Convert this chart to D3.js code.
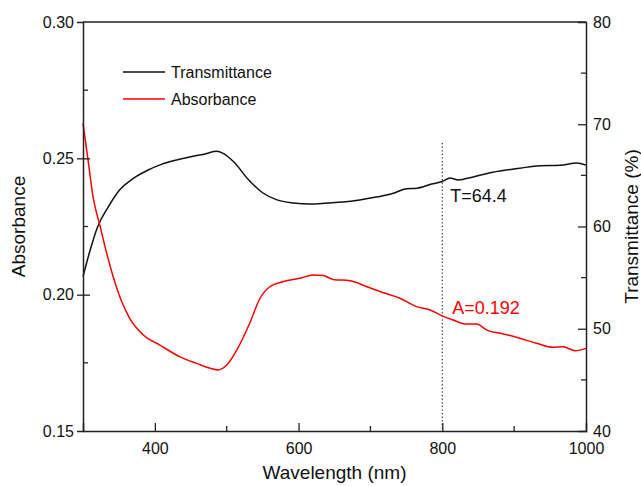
<!DOCTYPE html>
<html>
<head>
<meta charset="utf-8">
<script src="https://d3js.org/d3.v7.min.js"></script>
<style>
    body{margin:0;background:#fff;}
    text{font-family:"Liberation Sans",Arial,sans-serif;}
</style>
</head>
<body>
<svg id="drawing_region"></svg>
<script>
// wavelength (nm) / transmittance (%)
const trans_wl = [300,310,320,335,350,370,390,410,430,455,470,486,495,510,530,550,570,593,616,640,662,685,710,732,750,765,785,800,811,822,843,870,908,936,964,987,1000];
const trans_val = [55.1,57.7,59.9,61.9,63.5,64.7,65.5,66.1,66.5,66.9,67.1,67.35,67.15,66.3,64.6,63.3,62.6,62.3,62.2,62.3,62.4,62.6,62.9,63.25,63.7,63.75,64.15,64.4,64.75,64.55,64.85,65.3,65.7,65.95,66.0,66.2,66.0];

// wavelength (nm) / absorbance
const abs_wl = [300,307,314,324,333,342,354,365,384,407,435,458,477,488,500,514,532,546,560,579,602,620,634,648,672,695,718,741,764,783,800,815,834,848,862,885,908,931,954,968,985,1000];
const abs_val = [0.2628,0.2494,0.2359,0.2249,0.2152,0.2066,0.1974,0.1913,0.1852,0.1815,0.1772,0.1748,0.1730,0.1724,0.1742,0.1797,0.1895,0.1985,0.2029,0.2048,0.2060,0.2072,0.2070,0.2056,0.2051,0.2029,0.2007,0.1987,0.1956,0.1944,0.1922,0.1907,0.1892,0.1892,0.1870,0.1856,0.1840,0.1822,0.1807,0.1809,0.1794,0.1803];

const x_ticks = [400,600,800,1000];
const y_left_ticks = [0.15,0.20,0.25,0.30];
const y_right_ticks = [40,50,60,70,80];

const marker_wl = 800;
const marker_T = "T=64.4";
const marker_A = "A=0.192";

var config = {
    parent:"#drawing_region",
    width:641,
    height:486,
    margin:{top:22,left:83,bottom:55,right:55}
};

class DualPlot{
    constructor(config){
        this.config = config;
        this.trans = trans_wl.map((w,i)=>({x:w,y:trans_val[i]}));
        this.abs = abs_wl.map((w,i)=>({x:w,y:abs_val[i]}));
        this.init();
    }

    init(){
        let self = this;
        const c = self.config;
        self.inner_width = c.width-c.margin.left-c.margin.right;
        self.inner_height = c.height-c.margin.top-c.margin.bottom;

        self.svg = d3.select(c.parent)
            .attr("width",c.width)
            .attr("height",c.height);

        self.chart = self.svg.append("g")
            .attr("transform",`translate(${c.margin.left},${c.margin.top})`);

        self.xscale = d3.scaleLinear().domain([300,1000]).range([0,self.inner_width]);
        self.yleft = d3.scaleLinear().domain([0.15,0.30]).range([self.inner_height,0]);
        self.yright = d3.scaleLinear().domain([40,80]).range([self.inner_height,0]);
    }

    render(){
        let self = this;
        const W = self.inner_width, H = self.inner_height;
        const axisColor = "#222";

        // data lines
        const lineT = d3.line().x(d=>self.xscale(d.x)).y(d=>self.yright(d.y)).curve(d3.curveMonotoneX);
        const lineA = d3.line().x(d=>self.xscale(d.x)).y(d=>self.yleft(d.y)).curve(d3.curveMonotoneX);

        // dotted marker line
        self.chart.append("line")
            .attr("x1",self.xscale(marker_wl)).attr("x2",self.xscale(marker_wl))
            .attr("y1",121).attr("y2",H)
            .attr("stroke","#222").attr("stroke-width",1.2)
            .attr("stroke-dasharray","1.2,2.4");

        self.chart.append("path").datum(self.trans)
            .attr("d",lineT).attr("fill","none")
            .attr("stroke","#111").attr("stroke-width",1.5);
        self.chart.append("path").datum(self.abs)
            .attr("d",lineA).attr("fill","none")
            .attr("stroke","#ff0000").attr("stroke-width",1.5);

        // bottom axis
        const xaxis = d3.axisBottom(self.xscale).tickValues(x_ticks).tickSize(-8).tickPadding(12).tickFormat(d3.format("d"));
        const xg = self.chart.append("g").attr("transform",`translate(0,${H})`).call(xaxis);
        xg.selectAll(".tick")
            .filter(d=>d===1000).select("line").remove();
        const xminor = d3.range(500,1000,200);
        xg.selectAll(".minor").data(xminor).enter().append("line")
            .attr("x1",d=>self.xscale(d)).attr("x2",d=>self.xscale(d))
            .attr("y1",0).attr("y2",-5);

        // top border
        self.chart.append("line")
            .attr("x1",0).attr("x2",W).attr("y1",0).attr("y2",0);

        // left axis
        const ylaxis = d3.axisLeft(self.yleft).tickValues(y_left_ticks).tickSize(6).tickPadding(3).tickFormat(d3.format(".2f"));
        const ylg = self.chart.append("g").call(ylaxis);
        ylg.selectAll(".tick line").attr("x2",-6).attr("x1",7);
        ylg.selectAll(".tick").filter(d=>d===0.15||d===0.30).select("line").remove();
        ylg.selectAll(".minor").data([0.175,0.225,0.275]).enter().append("line")
            .attr("x1",0).attr("x2",5)
            .attr("y1",d=>self.yleft(d)).attr("y2",d=>self.yleft(d));

        // right axis
        const yraxis = d3.axisRight(self.yright).tickValues(y_right_ticks).tickSize(-8).tickPadding(7);
        const yrg = self.chart.append("g").attr("transform",`translate(${W},0)`).call(yraxis);
        yrg.selectAll(".tick").filter(d=>d===40||d===80).select("line").remove();
        yrg.selectAll(".minor").data([45,55,65,75]).enter().append("line")
            .attr("x1",0).attr("x2",-5)
            .attr("y1",d=>self.yright(d)).attr("y2",d=>self.yright(d));

        [xg,ylg,yrg].forEach(g=>{
            g.select(".domain").attr("stroke",axisColor).attr("stroke-width",1.5);
            g.selectAll("line").attr("stroke",axisColor).attr("stroke-width",1.3);
            g.selectAll("text").attr("font-size","16px").attr("fill","#111")
                .attr("font-family","'Liberation Sans',Arial,sans-serif");
        });
        self.chart.selectAll("line").filter(function(){return !this.getAttribute("stroke");})
            .attr("stroke",axisColor).attr("stroke-width",1.5);

        // axis titles
        self.svg.append("text")
            .attr("x",self.config.margin.left+W/2).attr("y",479)
            .attr("text-anchor","middle").attr("font-size","19px").attr("fill","#111")
            .text("Wavelength (nm)");
        self.svg.append("text")
            .attr("transform",`translate(18,${self.config.margin.top+H/2}) rotate(-90)`)
            .attr("text-anchor","middle").attr("dominant-baseline","central")
            .attr("font-size","19px").attr("fill","#111")
            .text("Absorbance");
        self.svg.append("text")
            .attr("transform",`translate(631,${self.config.margin.top+H/2}) rotate(-90)`)
            .attr("text-anchor","middle").attr("dominant-baseline","central")
            .attr("font-size","19px").attr("fill","#111")
            .text("Transmittance (%)");

        // legend
        const legend = [
            {label:"Transmittance",color:"#111",y:50},
            {label:"Absorbance",color:"#ff0000",y:77}
        ];
        const lg = self.chart.selectAll(".legend").data(legend).enter().append("g");
        lg.append("line")
            .attr("x1",40).attr("x2",82)
            .attr("y1",d=>d.y).attr("y2",d=>d.y)
            .attr("stroke",d=>d.color).attr("stroke-width",1.5);
        lg.append("text")
            .attr("x",88).attr("y",d=>d.y)
            .attr("dominant-baseline","central")
            .attr("font-size","16px").attr("fill","#111")
            .text(d=>d.label);

        // annotations
        self.chart.append("text")
            .attr("x",self.xscale(marker_wl)+8).attr("y",180)
            .attr("font-size","18px").attr("fill","#111")
            .text(marker_T);
        self.chart.append("text")
            .attr("x",self.xscale(marker_wl)+10).attr("y",292)
            .attr("font-size","18px").attr("fill","#ff0000")
            .text(marker_A);
    }
}

const plot = new DualPlot(config);
plot.render();
</script>
</body>
</html>
